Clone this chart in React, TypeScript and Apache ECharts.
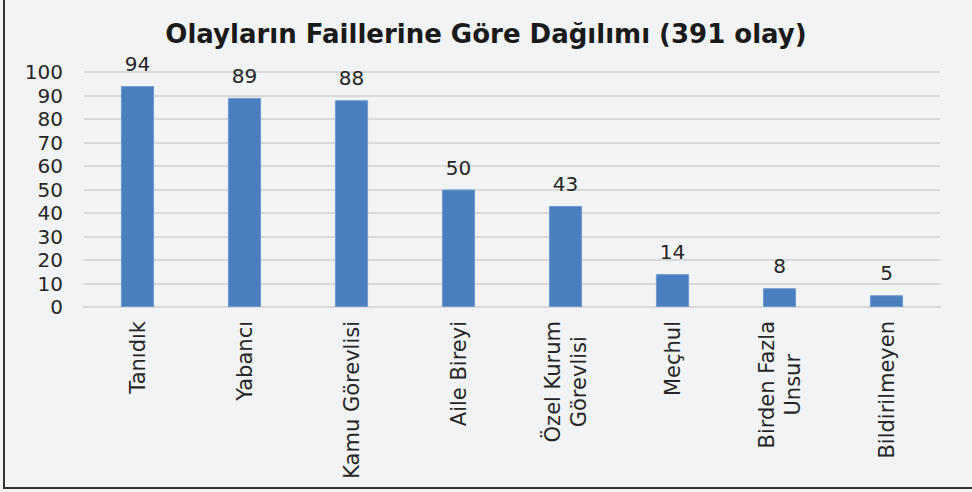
import React, { useEffect, useRef } from "react";
import * as echarts from "echarts";

const categories = [
  "Tanıdık",
  "Yabancı",
  "Kamu Görevlisi",
  "Aile Bireyi",
  "Özel Kurum\nGörevlisi",
  "Meçhul",
  "Birden Fazla\nUnsur",
  "Bildirilmeyen",
];
const values = [94, 89, 88, 50, 43, 14, 8, 5];
const titleText = "Olayların Faillerine Göre Dağılımı (391 olay)";
const yMin = 0;
const yMax = 100;
const yInterval = 10;

const FONT = "DejaVu Sans";

export default function App() {
  const ref = useRef<HTMLDivElement>(null);
  useEffect(() => {
    document.body.style.margin = "0";
    const chart = echarts.init(ref.current!, undefined, { renderer: "svg" });
    chart.setOption({
      animation: false,
      backgroundColor: "#f2f3f5",
      title: {
        text: titleText,
        left: "center",
        top: 16,
        textStyle: {
          fontFamily: FONT,
          fontWeight: "bold",
          fontSize: 26,
          color: "#1a1a1a",
        },
      },
      grid: { left: 84, right: 32, top: 72, bottom: 185 },
      xAxis: {
        type: "category",
        data: categories,
        axisLine: { lineStyle: { color: "#d9d9d9", width: 2 } },
        axisTick: { show: false },
        axisLabel: {
          rotate: 90,
          margin: 14,
          interval: 0,
          formatter: (v: string) =>
            v
              .split("\n")
              .map((l) => `{c|${l}}`)
              .join("\n"),
          rich: {
            c: {
              align: "center",
              fontFamily: FONT,
              fontSize: 21,
              color: "#262626",
              lineHeight: 26,
            },
          },
        },
      },
      yAxis: {
        type: "value",
        min: yMin,
        max: yMax,
        interval: yInterval,
        axisLine: { show: false },
        axisTick: { show: false },
        splitLine: { lineStyle: { color: "#d9d9d9", width: 2 } },
        axisLabel: {
          margin: 21,
          fontFamily: FONT,
          fontSize: 20,
          color: "#262626",
        },
      },
      series: [
        {
          type: "bar",
          data: values,
          barWidth: "31%",
          itemStyle: {
            color: "#4a7ebf",
            borderColor: "#6f9bd0",
            borderWidth: 1,
          },
          label: {
            show: true,
            position: "top",
            distance: 12,
            fontFamily: FONT,
            fontSize: 20,
            color: "#262626",
          },
        },
      ],
    });
    return () => chart.dispose();
  }, []);
  return (
    <div style={{ position: "fixed", left: 0, top: 0, width: 972, height: 492 }}>
      <div ref={ref} style={{ position: "absolute", left: 0, top: 0, width: 972, height: 492 }} />
      <div
        style={{
          position: "absolute",
          left: 3,
          top: 0,
          width: 972,
          height: 487,
          borderLeft: "2px solid #333",
          borderBottom: "2px solid #333",
          pointerEvents: "none",
        }}
      />
    </div>
  );
}
